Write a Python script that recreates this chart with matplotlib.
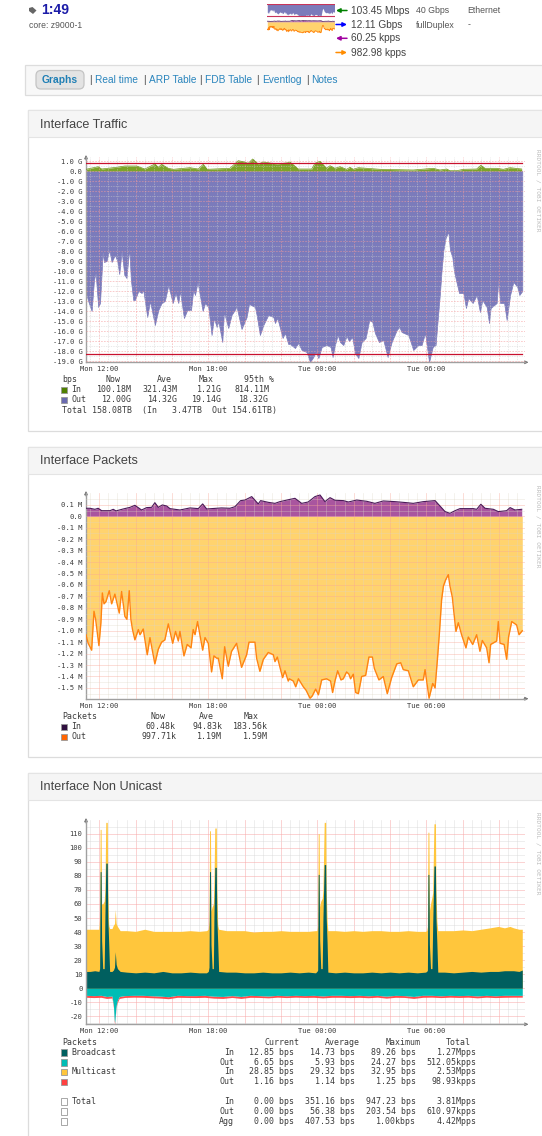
import matplotlib
matplotlib.use('Agg')
import matplotlib.pyplot as plt
from matplotlib.patches import Rectangle, FancyBboxPatch, Polygon

W, H = 542, 1136
MONO = 'DejaVu Sans Mono'
SANS = 'Liberation Sans'
TXT = 5.95
TICK = 5.1

# values, x is hours after Mon 12:00
traffic_out_hours = [-0.73, -0.61, -0.42, -0.29, -0.20, -0.06, 0.04, 0.15, 0.18, 0.26, 0.40, 0.55, 0.68, 0.86, 0.99, 1.10,
                     1.23, 1.38, 1.50, 1.65, 1.74, 1.87, 1.96, 2.15, 2.33, 2.42, 2.64, 2.79, 3.06, 3.25, 3.43, 3.61,
                     3.80, 4.04, 4.20, 4.35, 4.44, 4.66, 4.84, 5.05, 5.17, 5.27, 5.41, 5.69, 5.82, 6.00, 6.18, 6.31,
                     6.46, 6.55, 6.77, 6.86, 7.10, 7.28, 7.56, 7.83, 8.11, 8.24, 8.57, 8.66, 8.84, 9.03, 9.30, 9.58,
                     9.67, 9.80, 10.09, 10.22, 10.40, 10.50, 10.77, 10.95, 11.14, 11.41, 11.60, 11.78, 11.91, 12.06,
                     12.24, 12.51, 12.73, 12.84, 12.97, 13.12, 13.25, 13.43, 13.61, 13.74, 13.92, 14.07, 14.26, 14.44,
                     14.66, 14.86, 15.03, 15.17, 15.39, 15.63, 15.87, 16.09, 16.37, 16.51, 16.64, 17.01, 17.28, 17.56,
                     17.74, 17.93, 18.15, 18.35, 18.51, 18.61, 18.75, 18.84, 18.94, 19.06, 19.21, 19.30, 19.43, 19.52,
                     19.67, 19.80, 20.04, 20.18, 20.31, 20.55, 20.77, 20.95, 21.08, 21.32, 21.45, 21.54, 21.87, 21.96,
                     22.06, 22.28, 22.42, 22.61, 22.79, 23.01, 23.12, 23.28]
traffic_out = [-12.2, -13.0, -14.0, -10.9, -10.2, -13.6, -13.2, -9.5, -8.1, -9.1, -9.0, -7.9, -9.1, -8.4, -9.0, -10.3,
               -8.0, -10.4, -10.7, -7.7, -10.9, -12.9, -12.9, -12.0, -12.2, -11.9, -14.6, -13.0, -15.4, -13.9, -13.2, -13.0,
               -11.4, -13.2, -12.2, -13.2, -12.0, -14.7, -13.9, -13.9, -11.9, -12.4, -11.1, -14.0, -13.2, -13.6, -16.4, -14.7,
               -15.6, -15.0, -17.1, -14.1, -15.7, -14.4, -13.6, -15.8, -14.6, -13.3, -13.6, -14.4, -16.4, -15.4, -14.4, -14.6,
               -15.2, -14.7, -16.7, -16.2, -17.3, -17.3, -17.7, -17.2, -17.9, -18.1, -19.1, -18.6, -18.1, -18.7,
               -17.6, -17.4, -17.6, -18.6, -17.4, -16.4, -17.1, -17.4, -16.5, -17.0, -16.6, -18.2, -18.7, -17.1,
               -16.7, -14.9, -15.1, -16.2, -17.1, -16.9, -18.6, -17.1, -15.9, -15.6, -16.1, -16.4, -17.9, -17.4,
               -17.4, -16.2, -19.1, -17.6, -17.4, -15.2, -12.2, -9.9, -7.9, -6.7, -6.07, -7.9, -8.6, -10.0,
               -11.2, -12.2, -12.2, -13.7, -12.7, -13.2, -12.4, -14.1, -12.9, -13.6, -15.2, -13.7, -13.2, -10.9,
               -13.2, -13.2, -14.9, -12.4, -11.1, -11.6, -12.4, -12.0]
traffic_in_hours = [-0.73, -0.06, 0.13, 0.95, 1.41, 2.06, 2.51, 3.06, 3.25, 3.43, 3.80, 4.07, 4.99, 5.45, 5.72, 5.94,
                    7.19, 7.65, 7.93, 8.20, 8.44, 8.75, 9.03, 9.76, 10.40, 10.50, 10.95, 11.69, 11.87, 12.15, 12.51, 12.70,
                    12.97, 13.25, 13.61, 13.80, 13.98, 14.26, 15.45, 17.28, 18.38, 18.75, 19.12, 19.30, 19.67, 20.04, 20.77,
                    21.0, 21.23, 21.87, 22.24, 22.61, 23.25]
traffic_in = [0.17, 0.43, 0.2, 0.37, 0.5, 0.5, 0.2, 0.7, 0.37, 0.67, 0.27, 0.17, 0.33, 0.2, 0.67, 0.17,
              0.27, 1.03, 0.93, 0.77, 1.2, 0.7, 0.9, 0.7, 0.83, 0.9, 0.2, 0.2, 0.77, 0.97, 0.27, 0.53,
              0.27, 0.43, 0.17, 0.37, 0.17, 0.33, 0.17, 0.1, 0.27, 0.1, 0.2, 0.03, 0.03, 0.17, 0.2,
              0.57, 0.27, 0.27, 0.17, 0.33, 0.2]
traffic_in_95, traffic_out_95 = 0.814, -18.32

packets_out_hours = [-0.73, -0.61, -0.42, -0.29, -0.20, -0.02, 0.09, 0.17, 0.26, 0.37, 0.55, 0.68, 0.86, 0.99, 1.10, 1.23,
                     1.41, 1.52, 1.65, 1.74, 1.83, 1.96, 2.15, 2.24, 2.42, 2.64, 2.79, 3.06, 3.25, 3.43, 3.61, 3.80,
                     4.04, 4.20, 4.35, 4.44, 4.66, 4.84, 5.05, 5.17, 5.27, 5.41, 5.69, 5.82, 6.00, 6.18, 6.31, 6.46,
                     6.55, 6.77, 6.90, 7.10, 7.28, 7.56, 7.83, 8.11, 8.24, 8.57, 8.66, 8.84, 9.03, 9.30, 9.58, 9.67,
                     9.80, 10.09, 10.22, 10.40, 10.46, 10.68, 10.81, 10.96, 11.23, 11.38, 11.60, 11.72, 11.91, 12.06,
                     12.24, 12.51, 12.73, 12.84, 12.97, 13.12, 13.30, 13.43, 13.61, 13.74, 13.83, 13.98, 14.11, 14.26,
                     14.44, 14.66, 14.84, 15.03, 15.14, 15.39, 15.63, 15.85, 16.09, 16.37, 16.59, 16.73, 17.01, 17.28,
                     17.56, 17.83, 17.93, 18.15, 18.35, 18.48, 18.61, 18.72, 18.84, 18.94, 19.06, 19.21, 19.30, 19.43,
                     19.52, 19.63, 19.76, 19.94, 20.18, 20.31, 20.55, 20.77, 20.95, 21.08, 21.32, 21.45, 21.54, 21.87,
                     21.96, 22.06, 22.28, 22.42, 22.53, 22.70, 22.97, 23.10, 23.28]
packets_out = [-1.035, -1.11, -1.17, -0.83, -0.90, -1.13, -0.93, -0.67, -0.765, -0.745, -0.65, -0.765, -0.68, -0.77, -0.846, -0.657,
               -0.875, -0.90, -0.65, -0.90, -0.99, -1.08, -0.99, -1.035, -0.985, -1.21, -1.06, -1.29, -1.16, -1.10, -1.08, -0.94,
               -1.11, -1.006, -1.09, -1.006, -1.22, -1.12, -1.15, -0.99, -1.035, -0.92, -1.17, -1.06, -1.11, -1.36, -1.22, -1.24,
               -1.24, -1.42, -1.14, -1.31, -1.18, -1.11, -1.32, -1.21, -1.10, -1.10, -1.24, -1.355, -1.25, -1.19, -1.21, -1.27,
               -1.23, -1.41, -1.35, -1.44, -1.42, -1.44, -1.49, -1.42, -1.49, -1.52, -1.59, -1.57, -1.51, -1.56,
               -1.43, -1.42, -1.44, -1.54, -1.44, -1.35, -1.43, -1.42, -1.36, -1.38, -1.42, -1.38, -1.54, -1.55,
               -1.40, -1.39, -1.23, -1.23, -1.33, -1.43, -1.40, -1.55, -1.41, -1.29, -1.28, -1.34, -1.35, -1.49,
               -1.43, -1.43, -1.34, -1.59, -1.46, -1.50, -1.25, -1.02, -0.73, -0.61, -0.556, -0.51, -0.61, -0.707,
               -0.846, -1.006, -0.93, -1.035, -1.15, -1.055, -1.12, -1.035, -1.18, -1.085, -1.15, -1.28, -1.12, -1.09,
               -0.92, -1.11, -1.12, -1.25, -1.05, -0.92, -0.95, -1.035, -1.0]
packets_in_hours = [-0.73, -0.51, -0.24, -0.06, 0.13, 0.59, 0.77, 0.92, 1.32, 1.69, 1.96, 2.33, 2.61, 2.88, 3.06, 3.25,
                    3.47, 3.71, 3.89, 4.44, 4.99, 5.45, 5.69, 5.91, 6.73, 7.19, 7.47, 7.78, 8.02, 8.39, 8.75, 8.88,
                    9.30, 9.67, 9.94, 10.50, 10.77, 11.14, 11.50, 11.87, 12.15, 12.42, 12.70, 12.97, 13.43, 13.71, 14.17,
                    14.72, 15.17, 15.63, 16.28, 16.92, 17.28, 17.83, 18.48, 18.75, 19.03, 19.30, 19.58, 19.85, 20.59,
                    20.77, 21.0, 21.23, 21.69, 21.96, 22.42, 22.61, 22.88, 23.25]
packets_in = [0.07, 0.07, 0.061, 0.07, 0.049, 0.049, 0.061, 0.047, 0.064, 0.078, 0.096, 0.055, 0.076, 0.078, 0.119, 0.078,
              0.099, 0.09, 0.067, 0.055, 0.073, 0.067, 0.108, 0.064, 0.073, 0.07, 0.084, 0.137, 0.142, 0.172, 0.108, 0.137,
              0.122, 0.113, 0.128, 0.148, 0.157, 0.113, 0.125, 0.172, 0.186, 0.128, 0.163, 0.14, 0.137, 0.125, 0.142,
              0.131, 0.113, 0.134, 0.128, 0.119, 0.113, 0.128, 0.137, 0.09, 0.041, 0.026, 0.049, 0.067, 0.067,
              0.061, 0.105, 0.07, 0.061, 0.041, 0.049, 0.076, 0.055, 0.061]

nonuni_hours = [-0.73, -0.5, -0.25,
                -0.02, 0.02, 0.05, 0.10, 0.13, 0.19, 0.27, 0.31, 0.36, 0.44, 0.47, 0.52, 0.57,
                0.70, 0.78, 0.84, 0.88, 0.93, 1.0, 1.15, 1.5, 2, 2.5, 3, 3.5, 4, 4.5, 5, 5.5, 5.9,
                6.00, 6.04, 6.07, 6.12, 6.15, 6.21, 6.28, 6.31, 6.36, 6.44, 6.47, 6.52, 6.57,
                7, 7.5, 8, 8.5, 9, 9.5, 10, 10.5, 11, 11.5, 11.9,
                11.98, 12.02, 12.05, 12.10, 12.13, 12.19, 12.27, 12.31, 12.38, 12.46, 12.49, 12.54, 12.58,
                13, 13.5, 14, 14.5, 15, 15.5, 16, 16.5, 17, 17.5, 17.95,
                18.02, 18.06, 18.09, 18.14, 18.17, 18.23, 18.31, 18.35, 18.42, 18.50, 18.53, 18.58, 18.63,
                19, 19.5, 20, 20.5, 21, 21.5, 21.96, 22.3, 22.6, 22.8, 23.1, 23.28]
broadcast_in = [12, 12, 12.5,
                12, 14, 83, 83, 34, 14, 14, 50, 89, 89, 50, 32, 12,
                12, 13, 15, 26, 17, 14, 12, 11.5, 11, 11.5, 11, 12, 11, 11, 11.5, 11, 11,
                12, 15, 83, 83, 31, 14, 14, 50, 86, 86, 50, 32, 12,
                11.5, 11.5, 11, 11, 11.5, 11, 11, 11.5, 11, 11.5, 11,
                12, 13, 81, 81, 34, 14, 14, 50, 88, 88, 50, 32, 11.5,
                11, 11.5, 11, 11, 11.5, 11, 11.5, 11, 11.5, 11, 11.5,
                12, 13, 81, 81, 31, 14, 14, 45, 87, 87, 50, 32, 11.5,
                11.5, 11, 11.5, 12, 11.5, 12, 12, 12.5, 12.5, 12.5, 12, 13]
multicast_top = [42, 42, 42,
                 42, 50, 113, 113, 60, 60, 62, 70, 118, 118, 70, 45, 42.5,
                 42.5, 45, 46, 56, 46, 44, 41, 41, 40.5, 42, 40.5, 40.5, 40.5, 40.5, 41, 40.5, 41,
                 42, 48, 112, 112, 55, 58, 60, 75, 114, 114, 70, 45, 42,
                 41, 41, 41, 40, 40.5, 40.5, 41, 40.5, 40.5, 40.5, 41,
                 41, 44, 110, 110, 58, 62, 64, 70, 118, 118, 70, 48, 41,
                 41, 40.5, 41, 40.5, 41, 41, 40.5, 40.5, 41, 40.5, 40.5,
                 41, 44, 111, 111, 55, 60, 65, 68, 117, 117, 70, 48, 41,
                 41, 41, 41.5, 41, 42, 43, 44, 43, 44, 43, 42, 42]
nonuni_out_hours = [-0.73, -0.3, 0.1, 0.4, 0.70, 0.78, 0.82, 0.85, 0.92, 0.98, 1.1, 1.4, 1.9, 2.4, 2.9, 3.4, 3.8, 4.3, 4.8, 5.3,
                    5.8, 6.3, 6.8, 7.3, 7.8, 8.3, 8.8, 9.3, 9.8, 10.3, 10.8, 11.3, 11.8, 12.3, 12.8, 13.3, 13.8, 14.3, 14.8, 15.3,
                    15.8, 16.3, 16.8, 17.3, 17.8, 18.3, 18.8, 19.3, 19.8, 20.3, 20.8, 21.3, 21.8, 22.3, 22.8, 23.28]
broadcast_out = [-5.0, -5.2, -5.0, -5.8, -5.5, -12, -22, -24.5, -13, -9, -5.8, -5.2, -5.0, -5.0, -5.3, -5.6, -6.0, -5.0, -5.2, -5.2,
                 -5.0, -5.6, -5.8, -5.2, -5.8, -5.0, -5.2, -5.5, -5.0, -5.3, -5.0, -5.2, -5.0, -5.4, -5.0, -5.0, -5.2, -5.0, -5.3, -5.0,
                 -5.6, -5.0, -5.2, -5.8, -5.0, -5.0, -5.3, -5.0, -5.2, -5.0, -5.4, -5.0, -5.3, -5.0, -5.0, -5.0]
multicast_bottom = [-6.4, -6.6, -6.4, -7.2, -6.9, -13.5, -23.5, -25.6, -14.5, -10.5, -7.2, -6.5, -6.3, -6.4, -6.7, -7.0, -7.4, -6.4, -6.5, -6.6,
                    -6.4, -7.0, -7.2, -6.5, -7.2, -6.4, -6.5, -6.8, -6.3, -6.6, -6.3, -6.5, -6.4, -6.8, -6.4, -6.4, -6.6, -6.4, -6.7, -6.3,
                    -7.0, -6.4, -6.5, -7.2, -6.4, -6.3, -6.6, -6.3, -6.5, -6.3, -6.8, -6.3, -6.6, -6.4, -6.3, -6.3]

traffic_yticks = list(range(1, -20, -1))
packets_yticks = [0.1, 0.0, -0.1, -0.2, -0.3, -0.4, -0.5, -0.6, -0.7, -0.8, -0.9, -1.0, -1.1, -1.2, -1.3, -1.4, -1.5]
nonuni_yticks = list(range(110, -21, -10))
time_labels = {0: 'Mon 12:00', 6: 'Mon 18:00', 12: 'Tue 00:00', 18: 'Tue 06:00'}

fig = plt.figure(figsize=(W / 100, H / 100), dpi=100)
page = fig.add_axes([0, 0, 1, 1])
page.set_xlim(0, W)
page.set_ylim(H, 0)
page.axis('off')


def put(x, y, s, size=TXT, color='#3a3a3a', family=MONO, ha='left', **kw):
    page.text(x, y, s, fontsize=size, color=color, family=family, ha=ha, va='center', **kw)


def px_axes(x0, y0, x1, y1, xlim, ylim):
    ax = fig.add_axes([x0 / W, 1 - y1 / H, (x1 - x0) / W, (y1 - y0) / H])
    ax.patch.set_alpha(0)
    ax.set_xlim(*xlim)
    ax.set_ylim(*ylim)
    return ax


def style_graph(ax, yticks, ylabels, yminor, major_col, minor_col, ls, alpha, below):
    for s in ['top', 'right']:
        ax.spines[s].set_visible(False)
    for s in ['left', 'bottom']:
        ax.spines[s].set_color('#a0a0a0')
        ax.spines[s].set_linewidth(1.0)
    ax.set_xticks(range(0, 24, 2))
    ax.set_xticklabels([time_labels.get(h, '') for h in range(0, 24, 2)], family=MONO, fontsize=TICK, color='#3a3a3a')
    ax.set_xticks([h / 2 for h in range(-1, 47)], minor=True)
    ax.set_yticks(yticks)
    ax.set_yticklabels(ylabels, family=MONO, fontsize=TICK, color='#3a3a3a')
    ax.set_yticks(yminor, minor=True)
    ax.tick_params(which='both', length=0)
    ax.tick_params(axis='x', pad=3)
    ax.tick_params(axis='y', pad=2.6)
    ax.set_axisbelow(below)
    ax.grid(which='major', color=major_col, lw=0.6, ls=ls, alpha=alpha)
    ax.grid(which='minor', color=minor_col, lw=0.5, ls=ls, alpha=alpha)


def axis_arrows(x, ytop, ybot):
    page.annotate('', xy=(x, ytop - 5), xytext=(x, ytop), arrowprops=dict(arrowstyle='-|>', color='#777777', lw=0.7, mutation_scale=5, shrinkA=0, shrinkB=0))
    page.annotate('', xy=(528.5, ybot), xytext=(524, ybot), arrowprops=dict(arrowstyle='-|>', color='#777777', lw=0.7, mutation_scale=5, shrinkA=0, shrinkB=0))


def card(y0, y1, title):
    page.add_patch(Rectangle((28, y0), 530, y1 - y0, fc='white', ec='#dcdcdc', lw=0.9))
    page.add_patch(Rectangle((28, y0), 530, 27, fc='#f5f5f5', ec='#e4e4e4', lw=0.8))
    put(40, y0 + 14.5, title, size=9.1, color='#444444', family=SANS)


def swatch(y, col, x=61.3):
    page.add_patch(Rectangle((x, y - 3.2), 5.6, 6.4, fc=col, ec='#999999', lw=0.6))


# page furniture
page.add_patch(Polygon([[29, 8], [32.5, 7], [36.5, 10.5], [33, 14], [29, 11]], fc='#666666', ec='none'))
put(41, 10.2, '1:49', size=10, color='#1c1ca8', family=SANS, weight='bold')
put(29, 25, 'core: z9000-1', size=6.2, color='#555555', family=SANS)
arrow_cols = ['#008000', '#0000ff', '#a000a0', '#ff8c00']
arrow_y = [10.5, 24.5, 38.3, 52.5]
arrow_text = ['103.45 Mbps', '12.11 Gbps', '60.25 kpps', '982.98 kpps']
for i in range(4):
    a, b = (347, 336) if i in (0, 2) else (336, 347)
    page.annotate('', xy=(b, arrow_y[i]), xytext=(a, arrow_y[i]), arrowprops=dict(arrowstyle='-|>', color=arrow_cols[i], lw=1.1, mutation_scale=6, shrinkA=0, shrinkB=0))
    put(351, arrow_y[i], arrow_text[i], size=7.3, color='#444444', family=SANS)
put(416, 10.3, '40 Gbps', size=6.3, color='#555555', family=SANS)
put(467.5, 10.3, 'Ethernet', size=6.3, color='#555555', family=SANS)
put(416, 25, 'fullDuplex', size=6.3, color='#555555', family=SANS)
put(468, 25, '-', size=6.3, color='#555555', family=SANS)

page.add_patch(Rectangle((25, 64.5), 530, 30.5, fc='#f8f8f8', ec='#dddddd', lw=0.9))
page.add_patch(FancyBboxPatch((36, 70.5), 48, 18.5, boxstyle='round,pad=0,rounding_size=5', fc='#e3e3e3', ec='#c4c4c4', lw=0.9))
put(42, 79.8, 'Graphs', size=7.4, color='#1f7fb5', family=SANS, weight='bold')
nav_x = [95, 149, 205, 262, 311]
nav_text = ['Real time', 'ARP Table', 'FDB Table', 'Eventlog', 'Notes']
bar_x = [89.5, 143, 199, 256, 306]
for i in range(5):
    put(bar_x[i], 79.8, '|', size=7.3, color='#555555', family=SANS)
    put(nav_x[i], 79.8, nav_text[i], size=7.3, color='#2a85bd', family=SANS)

card(110, 431, 'Interface Traffic')
card(447, 757, 'Interface Packets')
card(773, 1150, 'Interface Non Unicast')

XLIM = (-0.73, 23.43)

# Interface Traffic
ax1 = px_axes(86, 156.7, 525, 362.3, XLIM, (-19.13, 1.43))
style_graph(ax1, traffic_yticks, [f'{v:.1f} G' if v else '0.0' for v in traffic_yticks],
            [v + 0.5 for v in range(-19, 1)], '#f59a9a', '#cfcfcf', (0, (2, 1.5)), 0.6, False)
ax1.fill_between(traffic_out_hours, traffic_out, 0, color='#7b7bbb', lw=0.5, zorder=1.5)
ax1.fill_between(traffic_in_hours, traffic_in, 0, color='#7da428', lw=0, zorder=1.5)
ax1.plot(traffic_in_hours, traffic_in, color='#6d9518', lw=0.5, zorder=3)
ax1.plot([-0.73, 23.28], [traffic_in_95, traffic_in_95], color='#c8102e', lw=0.9, zorder=4)
ax1.plot([-0.73, 23.28], [traffic_out_95, traffic_out_95], color='#c8102e', lw=0.9, zorder=4)
axis_arrows(86, 160, 362.3)

# Interface Packets
ax2 = px_axes(86, 493, 525, 698.7, XLIM, (-1.594, 0.2035))
style_graph(ax2, packets_yticks, [f'{v:.1f} M' if v else '0.0' for v in packets_yticks],
            [v / 100 for v in range(-155, 20, 10)], '#f8a898', '#dcd6c6', '-', 0.45, False)
ax2.fill_between(packets_out_hours, packets_out, 0, color='#ffd36e', lw=0, zorder=1.5)
ax2.plot(packets_out_hours, packets_out, color='#ff8412', lw=1.0, zorder=3)
ax2.fill_between(packets_in_hours, packets_in, 0, color='#a9559f', lw=0, zorder=1.5)
ax2.plot(packets_in_hours, packets_in, color='#4b1a58', lw=0.8, zorder=3)
axis_arrows(86, 496, 698.7)

# Interface Non Unicast
ax3 = px_axes(86, 820, 525, 1024.3, XLIM, (-25.6, 119.7))
style_graph(ax3, nonuni_yticks, [str(v) for v in nonuni_yticks],
            list(range(-25, 120, 10)), '#f9a8a8', '#d8d8d8', '-', 0.6, True)
ax3.fill_between(nonuni_hours, multicast_top, 0, color='#ffc63c', lw=0, zorder=2)
ax3.fill_between(nonuni_hours, broadcast_in, 0, color='#005f5f', lw=0, zorder=2.1)
ax3.fill_between(nonuni_out_hours, broadcast_out, multicast_bottom, color='#ff4d4d', lw=0, zorder=2)
ax3.fill_between(nonuni_out_hours, broadcast_out, 0, color='#00bdb5', lw=0, zorder=2.1)
axis_arrows(86, 823, 1024.3)

for y0 in [190.5, 526, 853]:
    put(537.5, y0, 'RRDTOOL / TOBI OETIKER', size=4.4, color='#bbbbbb', ha='center', rotation=-90)

# tiny thumbnail next to the rates
m1 = px_axes(267.3, 3.5, 334.5, 17.5, (-0.73, 23.28), (-20.7, 1.6))
m1.axis('off')
m1.fill_between(traffic_out_hours, traffic_out, 0, color='#7b7bbb', lw=0)
m1.fill_between(traffic_in_hours, traffic_in, 0, color='#7da428', lw=0)
m1.plot([-0.73, 23.28], [traffic_in_95, traffic_in_95], color='#c8345a', lw=0.8)
m1.plot([-0.73, 23.28], [traffic_out_95, traffic_out_95], color='#c8345a', lw=0.8)
m2 = px_axes(267.3, 19, 334.5, 33, (-0.73, 23.28), (-1.59, 0.38))
m2.axis('off')
m2.fill_between(packets_out_hours, packets_out, 0, color='#ffd36e', lw=0)
m2.plot(packets_out_hours, packets_out, color='#ff8412', lw=0.6)
m2.fill_between(packets_in_hours, packets_in, 0, color='#a9559f', lw=0)
m2.plot(packets_in_hours, packets_in, color='#4b1a58', lw=0.5)

# legend tables
put(62, 380, 'bps')
for right, s in [(120.7, 'Now'), (171.7, 'Ave'), (214, 'Max'), (274, '95th %')]:
    put(right, 380, s, ha='right')
traffic_rows = [('In', '#4f8000', ['100.18M', '321.43M', '1.21G', '814.11M'], 390),
                ('Out', '#6a6ab0', ['12.00G', '14.32G', '19.14G', '18.32G'], 400)]
for name, col, cells, y in traffic_rows:
    swatch(y, col)
    put(71.5, y, name)
    for right, s in zip([131.7, 177.7, 222.3, 269.3], cells):
        put(right, y, s, ha='right')
put(62, 410, 'Total 158.08TB  (In   3.47TB  Out 154.61TB)')

put(62, 716.7, 'Packets')
for right, s in [(165.7, 'Now'), (214, 'Ave'), (259, 'Max')]:
    put(right, 716.7, s, ha='right')
packet_rows = [('In', '#2f0f3f', ['60.48k', '94.83k', '183.56k'], 726.7),
               ('Out', '#ff6400', ['997.71k', '1.19M', '1.59M'], 736.7)]
for name, col, cells, y in packet_rows:
    swatch(y, col)
    put(71.5, y, name)
    for right, s in zip([176, 222.3, 268.3], cells):
        put(right, y, s, ha='right')

put(62, 1042.3, 'Packets')
for right, s in [(299.3, 'Current'), (360, 'Average'), (421, 'Maximum'), (471, 'Total')]:
    put(right, 1042.3, s, ha='right')
nonuni_rows = [('Broadcast', '#005f5f', 'In', ['12.85 bps', '14.73 bps', '89.26 bps', '1.27Mpps'], 1052.3),
               ('', '#00bdb5', 'Out', ['6.65 bps', '5.93 bps', '24.27 bps', '512.05kpps'], 1062.3),
               ('Multicast', '#ffc63c', 'In', ['28.85 bps', '29.32 bps', '32.95 bps', '2.53Mpps'], 1072),
               ('', '#ff4040', 'Out', ['1.16 bps', '1.14 bps', '1.25 bps', '98.93kpps'], 1081.7),
               ('Total', 'white', 'In', ['0.00 bps', '351.16 bps', '947.23 bps', '3.81Mpps'], 1101.3),
               ('', 'white', 'Out', ['0.00 bps', '56.38 bps', '203.54 bps', '610.97kpps'], 1111.3),
               ('', 'white', 'Agg', ['0.00 bps', '407.53 bps', '1.00kbps', '4.42Mpps'], 1121.3)]
for name, col, way, cells, y in nonuni_rows:
    swatch(y, col)
    put(71.5, y, name)
    put(234, y, way, ha='right')
    for right, s in zip([294.3, 355, 415.7, 476.7], cells):
        put(right, y, s, ha='right')

fig.savefig('out.png', dpi=100)
